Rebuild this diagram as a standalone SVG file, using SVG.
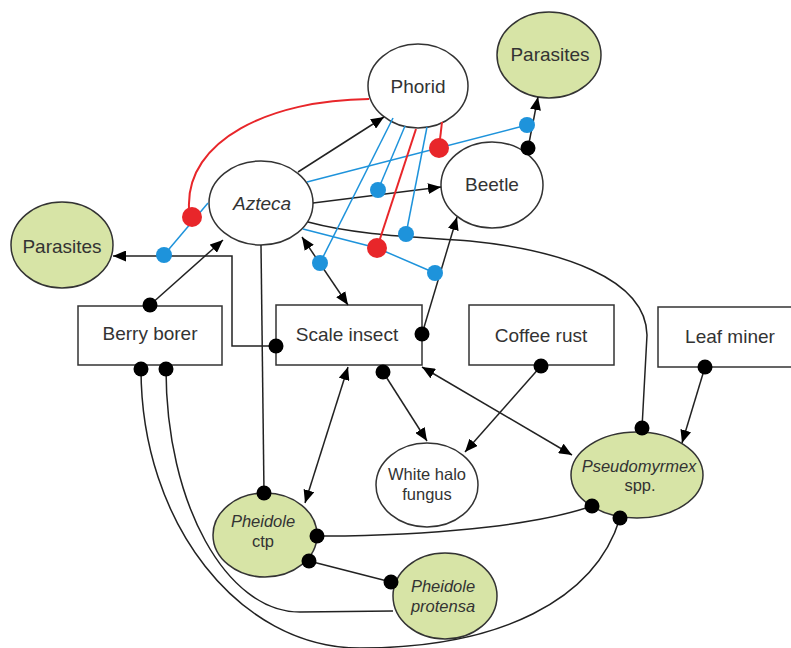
<svg xmlns="http://www.w3.org/2000/svg" width="791" height="648" viewBox="0 0 791 648">
<defs>
<style>
.n{fill:#fff;stroke:#333;stroke-width:1.5}
.g{fill:#d7e4a6;stroke:#333;stroke-width:1.5}
.t{font-family:"Liberation Sans",Arial,sans-serif;font-size:19px;fill:#333;text-anchor:middle}
.s{font-size:16.5px}
.i{font-style:italic}
.k{fill:none;stroke:#222;stroke-width:1.5}
.b{fill:none;stroke:#1e93db;stroke-width:1.5}
.r{fill:none;stroke:#e8262a;stroke-width:2}
.kd{fill:#000}
.bd{fill:#1e93db}
.rd{fill:#e8262a}
</style>
<marker id="ah" viewBox="0 0 13 11" refX="13" refY="5.5" markerWidth="13" markerHeight="11" markerUnits="userSpaceOnUse" orient="auto-start-reverse">
<path d="M0,0 L13,5.5 L0,11 z" fill="#000"/>
</marker>
</defs>
<rect width="791" height="648" fill="#fff"/>

<g id="phorid"><ellipse class="n" cx="418" cy="86" rx="50" ry="42"/><text class="t" x="418" y="93">Phorid</text></g>
<g id="parasites-top"><ellipse class="g" cx="549" cy="55" rx="52" ry="43"/><text class="t" x="550" y="61">Parasites</text></g>
<g id="beetle"><ellipse class="n" cx="492" cy="185" rx="51" ry="43"/><text class="t" x="492" y="191">Beetle</text></g>
<g id="azteca"><ellipse class="n" cx="261" cy="203" rx="52" ry="42"/><text class="t i" x="262" y="210">Azteca</text></g>
<g id="parasites-left"><ellipse class="g" cx="62" cy="245" rx="51" ry="43"/><text class="t" x="62" y="253">Parasites</text></g>
<g id="berry-borer"><rect class="n" x="78" y="306" width="144" height="59"/><text class="t" x="150" y="340">Berry borer</text></g>
<g id="scale-insect"><rect class="n" x="276" y="305" width="146" height="60"/><text class="t" x="347" y="341">Scale insect</text></g>
<g id="coffee-rust"><rect class="n" x="469" y="305" width="145" height="60"/><text class="t" x="541" y="342">Coffee rust</text></g>
<g id="leaf-miner"><rect class="n" x="658" y="307" width="145" height="60"/><text class="t" x="730" y="343">Leaf miner</text></g>
<g id="white-halo"><ellipse class="n" cx="427" cy="485" rx="51" ry="42"/><text class="t s" x="427" y="480">White halo</text><text class="t s" x="427" y="500">fungus</text></g>
<g id="pseudomyrmex"><ellipse class="g" cx="637" cy="475" rx="66" ry="43"/><text class="t s" x="639" y="472"><tspan class="i">Pseudomyrmex</tspan></text><text class="t s" x="640" y="491">spp.</text></g>
<g id="pheidole-ctp"><ellipse class="g" cx="265" cy="535" rx="52" ry="42"/><text class="t s i" x="263" y="527">Pheidole</text><text class="t s" x="263" y="547">ctp</text></g>
<g id="pheidole-protensa"><ellipse class="g" cx="445" cy="596" rx="52" ry="43"/><text class="t s i" x="443" y="592">Pheidole</text><text class="t s i" x="443" y="612">protensa</text></g>

<g id="connectors">
<!-- black -->
<path class="k" d="M298,172 L384,117" marker-end="url(#ah)"/>
<path class="k" d="M313,203 L441,187" marker-end="url(#ah)"/>
<path class="k" d="M150,305 L223,240" marker-end="url(#ah)"/>
<path class="k" d="M276,346 L232,346 L232,256 L113,256" marker-end="url(#ah)"/>
<path class="k" d="M302,237 L348,305" marker-start="url(#ah)" marker-end="url(#ah)"/>
<path class="k" d="M422,334 L457,217" marker-end="url(#ah)"/>
<path class="k" d="M528,148 L538,97" marker-end="url(#ah)"/>
<path class="k" d="M348,367 L305,503" marker-start="url(#ah)" marker-end="url(#ah)"/>
<path class="k" d="M383,372 L427,441" marker-end="url(#ah)"/>
<path class="k" d="M541,366 L465,452" marker-end="url(#ah)"/>
<path class="k" d="M422,367 L572,455" marker-start="url(#ah)" marker-end="url(#ah)"/>
<path class="k" d="M705,367 L682,443" marker-end="url(#ah)"/>
<path class="k" d="M261,245 L264,493"/>
<path class="k" d="M308,222 C360,236 420,237 470,241 C560,250 646,278 647,335 L642,428"/>
<path class="k" d="M317,536 L345,536 C450,534 540,524 592,506"/>
<path class="k" d="M309,561 L391,582"/>
<path class="k" d="M166,369 C166,503 226,612 300,612 L393,611"/>
<path class="k" d="M141,369 C141,523 239,648 360,648 C500,648 595,600 620,518"/>
<!-- blue -->
<path class="b" d="M208,203 L164,255"/>
<path class="b" d="M393,118 L320,263"/>
<path class="b" d="M405,126 L378,190"/>
<path class="b" d="M427,127 L406,234"/>
<path class="b" d="M307,182 L527,125"/>
<path class="b" d="M303,229 L377,248 L435,273"/>
<!-- red -->
<path class="r" d="M369,99 C270,100 186,140 189,208"/>
<path class="r" d="M416,129 L377,248"/>
<path class="r" d="M442,122 L439,148"/>
<!-- dots -->
<circle class="kd" cx="150" cy="305" r="7.5"/>
<circle class="kd" cx="276" cy="346" r="7.5"/>
<circle class="kd" cx="422" cy="334" r="7.5"/>
<circle class="kd" cx="528" cy="148" r="7.5"/>
<circle class="kd" cx="383" cy="372" r="7.5"/>
<circle class="kd" cx="541" cy="366" r="7.5"/>
<circle class="kd" cx="705" cy="367" r="7.5"/>
<circle class="kd" cx="264" cy="493" r="7.5"/>
<circle class="kd" cx="642" cy="428" r="7.5"/>
<circle class="kd" cx="317" cy="536" r="7.5"/>
<circle class="kd" cx="592" cy="506" r="7.5"/>
<circle class="kd" cx="309" cy="561" r="7.5"/>
<circle class="kd" cx="391" cy="582" r="7.5"/>
<circle class="kd" cx="141" cy="369" r="7.5"/>
<circle class="kd" cx="166" cy="369" r="7.5"/>
<circle class="kd" cx="620" cy="518" r="7.5"/>
<circle class="bd" cx="164" cy="255" r="8"/>
<circle class="bd" cx="320" cy="263" r="8"/>
<circle class="bd" cx="378" cy="190" r="8"/>
<circle class="bd" cx="406" cy="234" r="8"/>
<circle class="bd" cx="527" cy="125" r="8"/>
<circle class="bd" cx="435" cy="273" r="8"/>
<circle class="rd" cx="192" cy="217" r="10"/>
<circle class="rd" cx="377" cy="248" r="10"/>
<circle class="rd" cx="439" cy="148" r="10"/>
</g>
</svg>
